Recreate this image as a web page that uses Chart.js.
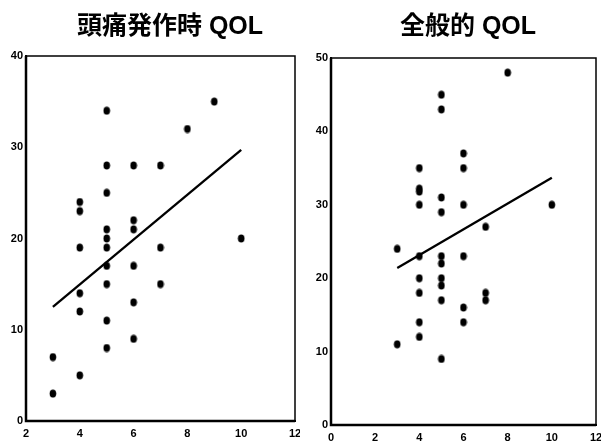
<!DOCTYPE html>
<html>
<head>
<meta charset="utf-8">
<script src="https://cdn.jsdelivr.net/npm/chart.js@4.4.0/dist/chart.umd.min.js"></script>
<style>
  html, body { margin:0; padding:0; background:#fff; }
  #wrap { position:relative; width:601px; height:443px; overflow:hidden; background:#fff; }
  canvas { position:absolute; top:0; }
  .title { position:absolute; top:5px; font-family:"Liberation Sans","Noto Sans CJK JP",sans-serif; font-weight:bold; font-size:25px; color:#000; white-space:nowrap; transform:translateX(-50%); }
</style>
</head>
<body>
<div id="wrap">
  <canvas id="c1" width="300" height="443" style="left:0px"></canvas>
  <canvas id="c2" width="301" height="443" style="left:300px"></canvas>
  <div class="title" style="left:170px">頭痛発作時 QOL</div>
  <div class="title" style="left:468px">全般的 QOL</div>
</div>
<script>
// Left panel: 頭痛発作時 QOL
const leftX = [5,9,8,5,6,7,5,4,4,6,6,5,5,5,10,4,7,5,6,5,7,4,4,6,5,6,5,3,4,3];
const leftY = [34,35,32,28,28,28,25,24,23,22,21,21,20,19,20,19,19,17,17,15,15,14,12,13,11,9,8,7,5,3];
const leftLineX = [3,10];
const leftLineY = [12.5,29.7];
const leftXTicks = [2,4,6,8,10,12];
const leftYTicks = [0,10,20,30,40];

// Right panel: 全般的 QOL
const rightX = [8,5,5,6,4,6,4,4,4,5,5,6,10,7,3,4,5,5,6,4,5,5,4,5,7,7,6,6,4,4,3,5];
const rightY = [48,45,43,37,35,35,32.2,31.8,30,31,29,30,30,27,24,23,23,22,23,20,20,19,18,17,18,17,16,14,14,12,11,9];
const rightLineX = [3,10];
const rightLineY = [21.4,33.7];
const rightXTicks = [0,2,4,6,8,10,12];
const rightYTicks = [0,10,20,30,40,50];

function ellipseDot() {
  const c = document.createElement('canvas');
  c.width = 8; c.height = 9;
  const g = c.getContext('2d');
  g.fillStyle = '#000';
  g.beginPath();
  g.ellipse(4, 4.5, 3.3, 4, 0, 0, Math.PI * 2);
  g.fill();
  return c;
}
const dot = ellipseDot();

const framePlugin = {
  id: 'frame',
  afterDraw(chart) {
    const a = chart.chartArea, ctx = chart.ctx;
    ctx.save();
    ctx.strokeStyle = '#000';
    ctx.lineWidth = 1.5;
    ctx.strokeRect(a.left, a.top, a.right - a.left, a.bottom - a.top);
    ctx.lineWidth = 2.5;
    ctx.beginPath();
    ctx.moveTo(a.left, a.top); ctx.lineTo(a.left, a.bottom); ctx.lineTo(a.right, a.bottom);
    ctx.stroke();
    ctx.restore();
  }
};

function makeChart(id, xs, ys, lx, ly, xTicks, yTicks, geom) {
  const pts = xs.map((x, i) => ({x: x, y: ys[i]}));
  const line = lx.map((x, i) => ({x: x, y: ly[i]}));
  const tickFont = {family: '"Liberation Sans", sans-serif', size: 11, weight: 'bold'};
  return new Chart(document.getElementById(id), {
    type: 'scatter',
    data: {
      datasets: [
        {data: pts, pointStyle: dot, pointRadius: 3, backgroundColor: '#000', borderColor: '#000'},
        {data: line, showLine: true, pointRadius: 0, borderColor: '#000', borderWidth: 2.3, fill: false}
      ]
    },
    options: {
      responsive: false,
      animation: false,
      devicePixelRatio: 1,
      layout: {padding: {top: geom.top, right: geom.right, left: 0, bottom: 0}},
      plugins: {legend: {display: false}, tooltip: {enabled: false}},
      scales: {
        x: {
          type: 'linear', min: xTicks[0], max: xTicks[xTicks.length - 1],
          afterBuildTicks(s) { s.ticks = xTicks.map(v => ({value: v})); },
          afterFit(s) { s.height = geom.xh; s.paddingLeft = 0; s.paddingRight = 0; },
          grid: {display: false, drawTicks: false},
          border: {display: true, color: '#000', width: 2},
          ticks: {font: tickFont, color: '#000', padding: 6, maxRotation: 0, autoSkip: false}
        },
        y: {
          type: 'linear', min: yTicks[0], max: yTicks[yTicks.length - 1],
          afterBuildTicks(s) { s.ticks = yTicks.map(v => ({value: v})); },
          afterFit(s) { s.width = geom.yw; s.paddingTop = 0; s.paddingBottom = 0; },
          grid: {display: false, drawTicks: false},
          border: {display: true, color: '#000', width: 2},
          ticks: {font: tickFont, color: '#000', padding: 3, autoSkip: false}
        }
      }
    },
    plugins: [framePlugin]
  });
}

makeChart('c1', leftX, leftY, leftLineX, leftLineY, leftXTicks, leftYTicks, {top: 56, right: 3, xh: 22, yw: 26});
makeChart('c2', rightX, rightY, rightLineX, rightLineY, rightXTicks, rightYTicks, {top: 58, right: 3, xh: 18, yw: 31});
</script>
</body>
</html>
